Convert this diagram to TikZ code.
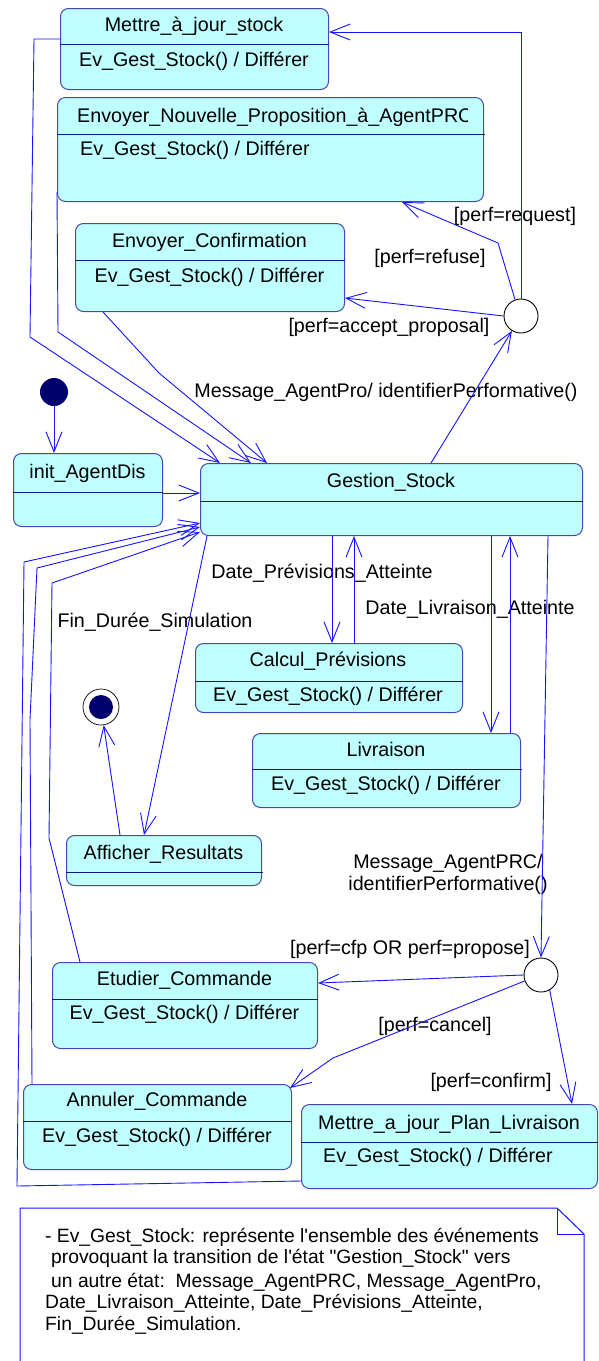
\documentclass[tikz,border=0pt]{standalone}
\usepackage{fontspec}
\newfontfamily\arial{Liberation Sans}
\usetikzlibrary{arrows.meta}
\definecolor{statefill}{RGB}{192,255,255}
\definecolor{stateline}{RGB}{70,70,180}
\definecolor{sepline}{RGB}{20,20,140}
\definecolor{wire}{RGB}{20,20,255}
\definecolor{dotfill}{RGB}{0,0,110}
\newcommand\lblfont{\arial\fontsize{19.7}{22}\selectfont}
\newcommand\notefont{\arial\fontsize{19.3}{22}\selectfont}
\newcommand\evrow{Ev\_Gest\_Stock() / Différer}

\begin{document}
\begin{tikzpicture}[x=1pt,y=-1pt,
  state/.style={draw=stateline, fill=statefill, rounded corners=8pt, line width=1pt, inner sep=0pt, anchor=north west},
  sep/.style={draw=sepline, line width=1pt},
  txt/.style={font=\lblfont, inner sep=0pt, anchor=base, text=black},
  ltxt/.style={txt, anchor=base west},
  ntxt/.style={font=\notefont, inner sep=0pt, anchor=base west, text=black},
  arr/.style={draw=wire, line width=0.9pt, -{Straight Barb[length=20pt,width=16pt]}},
  choice/.style={circle, draw=black, fill=white, minimum size=34pt, inner sep=0pt, line width=0.9pt},
  notebox/.style={draw=wire, line width=1pt},
]
\useasboundingbox (0,0) rectangle (598,1361);

% ---------- note ----------
\draw[notebox, fill=white] (20,1375) -- (20,1208) -- (557,1208) -- (584,1234) -- (584,1375);
\draw[notebox] (557,1208) -- (557,1234) -- (584,1234);
\node[ntxt] (n1) at (45,1242) {- Ev\_Gest\_Stock: représente l'ensemble des événements};
\node[ntxt] (n2) at (51,1263) {provoquant la transition de l'état "Gestion\_Stock" vers};
\node[ntxt] (n3) at (51,1287) {un autre état:\ \ Message\_AgentPRC, Message\_AgentPro,};
\node[ntxt] (n4) at (45,1308) {Date\_Livraison\_Atteinte, Date\_Prévisions\_Atteinte,};
\node[ntxt] (n5) at (45,1330) {Fin\_Durée\_Simulation.};

% ---------- states ----------
\node[state, minimum width=268pt, minimum height=81pt] (ms) at (60,8) {};
\draw[sep] (ms.west |- 0,44) -- (ms.east |- 0,44);
\node[txt] (mst) at (194,31) {Mettre\_à\_jour\_stock};
\node[txt] (msr) at (194,66) {\evrow};

\node[state, minimum width=426pt, minimum height=104pt] (enp) at (57,97) {};
\draw[sep] (enp.west |- 0,134) -- (485,134);
\begin{scope}
  \clip (57,100) rectangle (467,133);
  \node[ltxt] (enpt) at (77,122) {Envoyer\_Nouvelle\_Proposition\_à\_AgentPRC};
\end{scope}
\node[ltxt] (enpr) at (80,155) {\evrow};

\node[state, minimum width=269pt, minimum height=88pt] (ec) at (75,223) {};
\draw[sep] (ec.west |- 0,260) -- (345,260);
\node[txt] (ect) at (209.5,247) {Envoyer\_Confirmation};
\node[txt] (ecr) at (209.5,282) {\evrow};

\node[state, minimum width=149pt, minimum height=73pt] (ia) at (13,453) {};
\draw[sep] (ia.west |- 0,492) -- (ia.east |- 0,492);
\node[txt] (iat) at (87.5,478) {init\_AgentDis};

\node[state, minimum width=382pt, minimum height=72pt] (gs) at (200,463) {};
\draw[sep] (gs.west |- 0,501) -- (gs.east |- 0,501);
\node[txt] (gst) at (391,487) {Gestion\_Stock};

\node[state, minimum width=267pt, minimum height=69pt] (cp) at (195,643) {};
\draw[sep] (cp.west |- 0,681) -- (cp.east |- 0,681);
\node[txt] (cpt) at (328,666) {Calcul\_Prévisions};
\node[txt] (cpr) at (328,701) {\evrow};

\node[state, minimum width=268pt, minimum height=74pt] (lv) at (252,733) {};
\draw[sep] (lv.west |- 0,769) -- (522,769);
\node[txt] (lvt) at (386,756) {Livraison};
\node[txt] (lvr) at (386,790) {\evrow};

\node[state, minimum width=195pt, minimum height=50pt] (ar) at (66,835) {};
\draw[sep] (ar.west |- 0,872) -- (263,872);
\node[txt] (art) at (163.5,859) {Afficher\_Resultats};

\node[state, minimum width=265pt, minimum height=86pt] (et) at (52,962) {};
\draw[sep] (et.west |- 0,999) -- (et.east |- 0,999);
\node[txt] (ett) at (184.5,985) {Etudier\_Commande};
\node[txt] (etr) at (184.5,1019) {\evrow};

\node[state, minimum width=268pt, minimum height=85pt] (an) at (23,1084) {};
\draw[sep] (an.west |- 0,1121) -- (an.east |- 0,1121);
\node[txt] (ant) at (157,1106) {Annuler\_Commande};
\node[txt] (anr) at (157,1142) {\evrow};

\node[state, minimum width=296pt, minimum height=84pt] (pl) at (301,1104) {};
\draw[sep] (pl.west |- 0,1142) -- (598,1142);
\node[txt] (plt) at (449,1129) {Mettre\_a\_jour\_Plan\_Livraison};
\node[ltxt] (plr) at (323,1162) {\evrow};

% ---------- pseudo states ----------
\node[circle, fill=dotfill, minimum size=28pt, inner sep=0pt] (init) at (54,392) {};
\node[circle, draw=black, fill=white, minimum size=36pt, inner sep=0pt, line width=0.7pt] (fin) at (101,707) {};
\node[circle, fill=dotfill, minimum size=24pt, inner sep=0pt] (fincore) at (101,707) {};
\node[choice] (c1) at (521,316) {};
\node[choice] (c2) at (541,975) {};

% ---------- transition labels ----------
\node[txt] (l1) at (515,221) {[perf=request]};
\node[txt] (l2) at (430,263) {[perf=refuse]};
\node[txt] (l3) at (389,332) {[perf=accept\_proposal]};
\node[txt] (l4) at (386,397) {Message\_AgentPro/ identifierPerformative()};
\node[txt] (l5) at (322,578) {Date\_Prévisions\_Atteinte};
\node[txt] (l6) at (470,614) {Date\_Livraison\_Atteinte};
\node[txt] (l7) at (155,627) {Fin\_Durée\_Simulation};
\node[txt] (l8) at (448,868) {Message\_AgentPRC/};
\node[txt] (l9) at (448,890) {identifierPerformative()};
\node[txt] (l10) at (410,954) {[perf=cfp OR perf=propose]};
\node[txt] (l11) at (435,1031) {[perf=cancel]};
\node[txt] (l12) at (491,1087) {[perf=confirm]};

% ---------- transitions ----------
\draw[arr] (c1.north) |- (ms.east |- 0,32);
\draw[arr] (c1.110) -- (498,243) -- (402,0 |- enp.south);
\draw[arr] (c1.west) -- (ec.east |- 0,298);
\draw[arr] (ms.west |- 0,39) -- (34,39) -- (30,337) -- (220,0 |- gs.north);
\draw[arr] (enp.west |- 0,192) -- (58,332) -- (251,0 |- gs.north);
\draw[arr] (103,0 |- ec.south) -- (159,373) -- (267,0 |- gs.north);
\draw[arr] (431,0 |- gs.north) -- (c1);
\draw[arr] (init) -- (init |- ia.north);
\draw[arr] (ia.east |- 0,493) -- (gs.west |- 0,493);
\draw[arr] (pl.west |- 0,1181) -- (17,1186) -- (24,562) -- (gs.west |- 0,523);
\draw[arr] (32,0 |- an.north) -- (30,720) -- (37,568) -- (gs.west |- 0,527);
\draw[arr] (80,0 |- et.north) -- (49,838) -- (52,583) -- (gs.west |- 0,532);
\draw[arr] (207,0 |- gs.south) -- (144,0 |- ar.north);
\draw[arr] (120,0 |- ar.north) -- (fin);
\draw[arr] (332,0 |- gs.south) -- (332,0 |- cp.north);
\draw[arr] (354,0 |- cp.north) -- (354,0 |- gs.south);
\draw[arr] (491,0 |- gs.south) -- (491,0 |- lv.north);
\draw[arr] (510,0 |- lv.north) -- (510,0 |- gs.south);
\draw[arr] (548,0 |- gs.south) -- (c2.north);
\draw[arr] (c2.west) -- (et.east |- 0,983);
\draw[arr] (c2.200) -- (333,1058) -- ([xshift=-2pt,yshift=-4pt]an.north east);
\draw[arr] (c2.-60) -- (572,0 |- pl.north);
\end{tikzpicture}
\end{document}
